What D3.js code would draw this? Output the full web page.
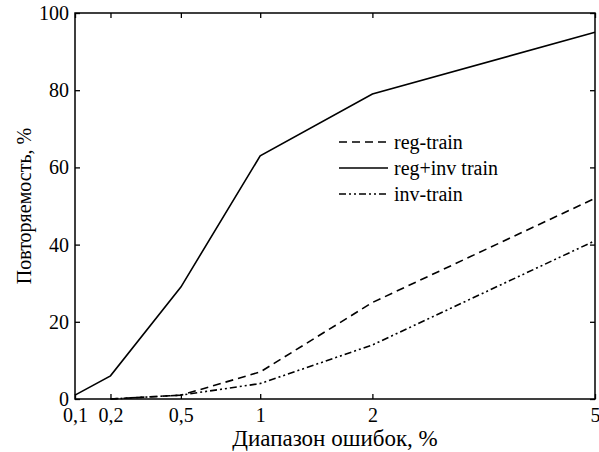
<!DOCTYPE html>
<meta charset="utf-8">
<style>
  body { margin: 0; background: #fff; }
  svg text { font-family: "Liberation Serif", "Times New Roman", serif; fill: #000; }
  .axis path { display: none; }
  .axis line { stroke: #000; stroke-width: 1.3px; }
  .axis text { font-size: 20px; }
  .noLabels text { display: none; }
</style>
<body>
<div id="viz"></div>
<script src="https://d3js.org/d3.v7.min.js"></script>
<script>
// Данные графика
var xValues   = [0.1, 0.2, 0.5, 1, 2, 5];
var xTicks    = [0.1, 0.2, 0.5, 1, 2, 5];
var yTicks    = [0, 20, 40, 60, 80, 100];
var regInv    = [1, 6, 29, 63, 79, 95];          // reg+inv train (сплошная)
var regX      = [0.2, 0.5, 1, 2, 5];
var regTrain  = [0, 1, 7, 25, 52];               // reg-train (пунктир)
var invX      = [0.2, 0.5, 1, 2, 5];
var invTrain  = [0, 1, 4, 14, 41];               // inv-train (штрих-пунктир)
var seriesNames = ['reg-train', 'reg+inv train', 'inv-train'];

var margin = {top: 13, right: 4, bottom: 53, left: 75},
    width = 599 - margin.left - margin.right,
    height = 452 - margin.top - margin.bottom;

// ось X нелинейная (квадратный корень)
var xScale = d3.scaleSqrt().domain([0.1, 5]).range([0, width]);
var yScale = d3.scaleLinear().domain([0, 100]).range([height, 0]);

var svg = d3.select('#viz').append('svg')
    .attr('width', 599)
    .attr('height', 452);

var g = svg.append('g')
    .attr('transform', 'translate(' + margin.left + ',' + margin.top + ')');

var fmt = function(d){ return String(d).replace('.', ','); };

// оси с делениями внутрь
g.append('g')
    .attr('class', 'axis')
    .attr('transform', 'translate(0,' + height + ')')
    .call(d3.axisBottom(xScale).tickValues(xTicks).tickFormat(fmt)
          .tickSizeInner(-5).tickSizeOuter(0).tickPadding(9));

g.append('g')
    .attr('class', 'axis noLabels')
    .call(d3.axisTop(xScale).tickValues(xTicks).tickSizeInner(-5).tickSizeOuter(0));

g.append('g')
    .attr('class', 'axis')
    .call(d3.axisLeft(yScale).tickValues(yTicks)
          .tickSizeInner(-5).tickSizeOuter(0).tickPadding(6));

g.append('g')
    .attr('class', 'axis noLabels')
    .attr('transform', 'translate(' + width + ',0)')
    .call(d3.axisRight(yScale).tickValues(yTicks).tickSizeInner(-5).tickSizeOuter(0));

// рамка
g.append('rect')
    .attr('x', 0).attr('y', 0)
    .attr('width', width).attr('height', height)
    .attr('fill', 'none')
    .attr('stroke', '#000')
    .attr('stroke-width', 1.5);

var line = d3.line()
    .x(function(d){ return xScale(d[0]); })
    .y(function(d){ return yScale(d[1]); });

var dashes = ['8,5', null, '7,3,2,3,2,3'];

var series = [
  d3.zip(regX, regTrain),
  d3.zip(xValues, regInv),
  d3.zip(invX, invTrain)
];

series.forEach(function(s, i){
  g.append('path')
      .datum(s)
      .attr('d', line)
      .attr('fill', 'none')
      .attr('stroke', '#000')
      .attr('stroke-width', 1.6)
      .attr('stroke-dasharray', dashes[i]);
});

// легенда
var legend = svg.append('g').attr('transform', 'translate(339,142)');
seriesNames.forEach(function(name, i){
  var row = legend.append('g').attr('transform', 'translate(0,' + (i * 26) + ')');
  row.append('line')
      .attr('x1', 0).attr('x2', 49)
      .attr('stroke', '#000')
      .attr('stroke-width', 1.6)
      .attr('stroke-dasharray', dashes[i]);
  row.append('text')
      .attr('x', 55)
      .attr('dy', '0.35em')
      .attr('font-size', 20)
      .text(name);
});

// подписи осей
svg.append('text')
    .attr('x', margin.left + width / 2)
    .attr('y', 446)
    .attr('text-anchor', 'middle')
    .attr('font-size', 23)
    .text('Диапазон ошибок, %');

svg.append('text')
    .attr('transform', 'translate(31,206) rotate(-90)')
    .attr('text-anchor', 'middle')
    .attr('font-size', 20)
    .text('Повторяемость, %');
</script>
</body>
